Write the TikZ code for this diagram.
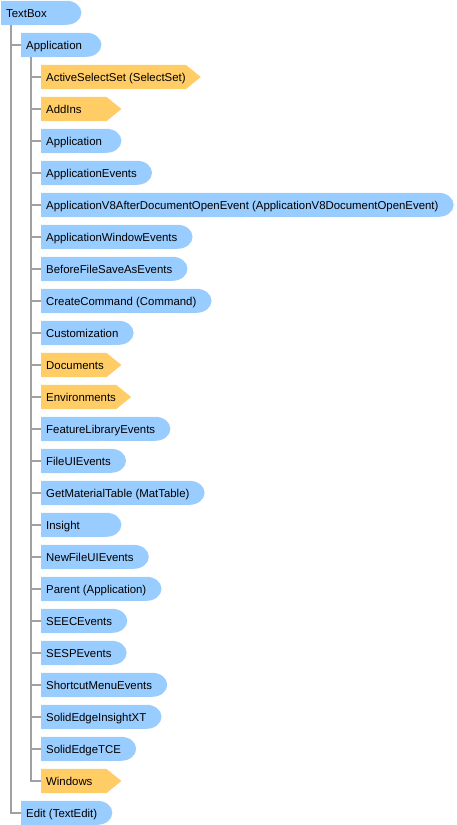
\documentclass[tikz,border=0pt]{standalone}
\usepackage{fontspec}
\setmainfont{Liberation Sans}
\usetikzlibrary{backgrounds}
\definecolor{objblue}{RGB}{153,204,255}
\definecolor{collorange}{RGB}{255,204,102}
\definecolor{treegray}{RGB}{160,160,160}
\newbox\itembox

\begin{document}
\begin{tikzpicture}[x=1bp, y=-1bp,
  every node/.style={font=\fontsize{11.4bp}{13bp}\selectfont, anchor=west},
  item/.style={rectangle, inner xsep=0pt, inner ysep=0pt, minimum height=24bp,
    execute at begin node={\setbox\itembox\hbox\bgroup},
    execute at end node={\egroup\dp\itembox=0pt\ht\itembox=8.2bp%
      \ifdim\wd\itembox<60bp\wd\itembox=60bp\fi\hskip5bp\box\itembox\hskip15bp}},
  tree/.style={draw=treegray, line width=2bp},
]
\useasboundingbox (0,0) rectangle (457,825);

\node[item] (textbox) at (1,13) {TextBox};
\node[item] (app) at (21,45) {Application};
\node[item] (activesel) at (41,77) {ActiveSelectSet (SelectSet)};
\node[item] (addins) at (41,109) {AddIns};
\node[item] (application) at (41,141) {Application};
\node[item] (appevents) at (41,173) {ApplicationEvents};
\node[item] (appvevent) at (41,205) {ApplicationV8AfterDocumentOpenEvent (ApplicationV8DocumentOpenEvent)};
\node[item] (appwinevents) at (41,237) {ApplicationWindowEvents};
\node[item] (beforesave) at (41,269) {BeforeFileSaveAsEvents};
\node[item] (createcmd) at (41,301) {CreateCommand (Command)};
\node[item] (custom) at (41,333) {Customization};
\node[item] (documents) at (41,365) {Documents};
\node[item] (environments) at (41,397) {Environments};
\node[item] (featlib) at (41,429) {FeatureLibraryEvents};
\node[item] (fileui) at (41,461) {FileUIEvents};
\node[item] (mattable) at (41,493) {GetMaterialTable (MatTable)};
\node[item] (insight) at (41,525) {Insight};
\node[item] (newfileui) at (41,557) {NewFileUIEvents};
\node[item] (parent) at (41,589) {Parent (Application)};
\node[item] (seec) at (41,621) {SEECEvents};
\node[item] (sesp) at (41,653) {SESPEvents};
\node[item] (shortcut) at (41,685) {ShortcutMenuEvents};
\node[item] (insightxt) at (41,717) {SolidEdgeInsightXT};
\node[item] (tce) at (41,749) {SolidEdgeTCE};
\node[item] (windows) at (41,781) {Windows};
\node[item] (edit) at (21,813) {Edit (TextEdit)};

\begin{pgfonlayer}{background}
% objects: flat left side, rounded right end
\foreach \n in {textbox,app,application,appevents,appvevent,appwinevents,beforesave,createcmd,custom,featlib,fileui,mattable,insight,newfileui,parent,seec,sesp,shortcut,insightxt,tce,edit}
  \fill[objblue] (\n.south west) -- (\n.north west) -- ([xshift=-15bp]\n.north east)
    arc[start angle=90, end angle=-90, x radius=15bp, y radius=12bp] -- cycle;
% collections: arrow shaped
\foreach \n in {activesel,addins,documents,environments,windows}
  \fill[collorange] (\n.south west) -- (\n.north west) -- ([xshift=-15bp]\n.north east)
    -- (\n.east) -- ([xshift=-15bp]\n.south east) -- cycle;
\end{pgfonlayer}

% TextBox branches
\draw[tree] ([xshift=10bp]textbox.south west) |- (app.west);
\draw[tree] ([xshift=10bp]textbox.south west) |- (edit.west);

% Application branches
\foreach \n in {activesel,addins,application,appevents,appvevent,appwinevents,beforesave,createcmd,custom,documents,environments,featlib,fileui,mattable,insight,newfileui,parent,seec,sesp,shortcut,insightxt,tce,windows}
  \draw[tree] ([xshift=10bp]app.south west) |- (\n.west);

\end{tikzpicture}
\end{document}
